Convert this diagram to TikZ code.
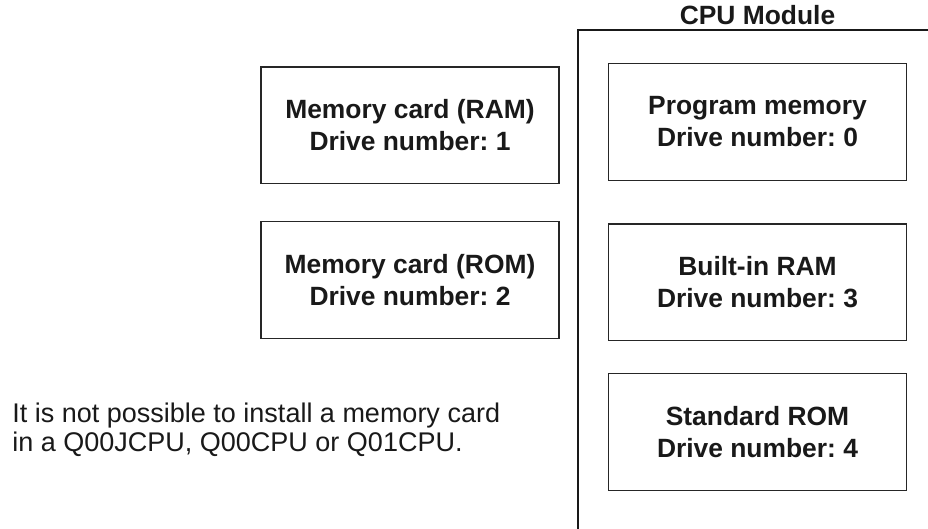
\documentclass[tikz,border=0pt]{standalone}
\usepackage{fontspec}
\setmainfont{Liberation Sans}
\usetikzlibrary{positioning}
\frenchspacing

\begin{document}
\begin{tikzpicture}[
		x=0.5pt, y=-0.5pt,
		memblock/.style={draw=black!85, line width=0.6pt, minimum width=149pt, minimum height=58.3pt,
			align=center, text=black!90, font=\fontsize{13.2}{16}\selectfont\bfseries}
	]
		\useasboundingbox (0,0) rectangle (928,529);

		% memory cards
		\node[memblock] (ram card) at (410,125.3) {Memory card (RAM)\\Drive number: 1};
		\node[memblock, below=18.5pt of ram card] (rom card) {Memory card (ROM)\\Drive number: 2};

		% CPU module
		\node[anchor=base, text=black!90, font=\fontsize{13.2}{16}\selectfont\bfseries] (cpu title) at (757.5,25) {CPU Module};
		\draw[black!90, line width=1pt] (928,30) -| (577.7,529);
		\node[memblock] (prog mem) at (757.5,122) {Program memory\\Drive number: 0};
		\node[memblock, below=21.25pt of prog mem] (built in) {Built-in RAM\\Drive number: 3};
		\node[memblock, below=16pt of built in] (std rom) {Standard ROM\\Drive number: 4};

		\node[anchor=north west, inner sep=0pt, align=left, text=black!90, font=\fontsize{13.5}{14.5}\selectfont] (note) at (12,403)
			{It is not possible to install a memory card\\in a Q00JCPU, Q00CPU or Q01CPU.};
	\end{tikzpicture}
\end{document}
